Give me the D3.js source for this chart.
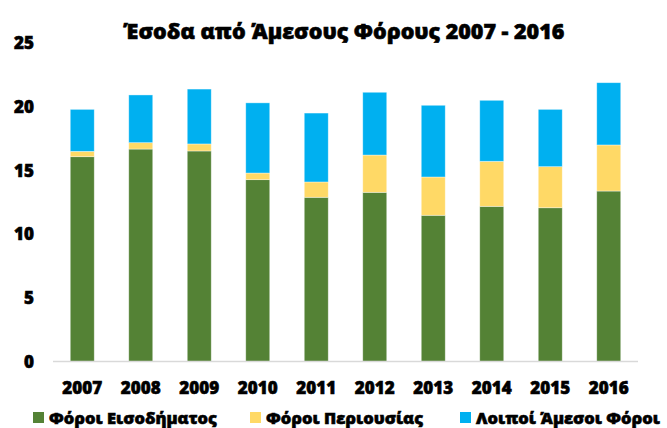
<!DOCTYPE html>
<html>
  <head>
    <meta charset="utf-8">
    <title></title>
    <script src="https://cdnjs.cloudflare.com/ajax/libs/d3/7.8.5/d3.min.js"></script>
    <style>
      body { margin: 0; background-color: white }
      text { font-family: "Open Sans", sans-serif; font-weight: 800; fill: black; stroke: black; stroke-width: 0.6px }
    </style>
  </head>
  <body>
    <div id="chart"></div>
  </body>
  <script>

var years = ["2007", "2008", "2009", "2010", "2011", "2012", "2013", "2014", "2015", "2016"]
var income = [16.05, 16.65, 16.5, 14.25, 12.87, 13.26, 11.46, 12.16, 12.05, 13.36]
var property = [0.42, 0.5, 0.55, 0.52, 1.2, 2.92, 3.0, 3.53, 3.22, 3.61]
var other = [3.29, 3.74, 4.3, 5.5, 5.4, 4.92, 5.62, 4.78, 4.49, 4.88]
var seriesNames = ["Φόροι Εισοδήματος", "Φόροι Περιουσίας", "Λοιποί Άμεσοι Φόροι"]
var colors = ["#548235", "#ffd966", "#00b0f0"]
var yTicks = [0, 5, 10, 15, 20, 25]

var W = 667, H = 428
var svg = d3.select("#chart").append("svg")
    .attr("width", W)
    .attr("height", H)

var x = d3.scaleBand().domain(years).range([53, 638]).paddingInner(0.59).paddingOuter(0.295)
var y = d3.scaleLinear().domain([0, 25]).range([361.5, 42.5])

var rows = years.map(function(yr, i){
    return {year: yr, income: income[i], property: property[i], other: other[i]}
})
var stack = d3.stack().keys(["income", "property", "other"])(rows)

svg.append("g").selectAll("g")
    .data(stack)
    .join("g")
    .attr("fill", function(d, i){ return colors[i] })
    .selectAll("rect")
    .data(function(d){ return d })
    .join("rect")
    .attr("x", function(d){ return x(d.data.year) })
    .attr("width", x.bandwidth())
    .attr("y", function(d){ return y(d[1]) })
    .attr("height", function(d){ return y(d[0]) - y(d[1]) })
    .attr("stroke", "rgba(255,255,255,0.5)")
    .attr("stroke-width", 0.75)

// baseline
svg.append("line")
    .attr("x1", 53).attr("x2", 638)
    .attr("y1", y(0)).attr("y2", y(0))
    .attr("stroke", "#d9d9d9")
    .attr("stroke-width", 1.5)

var yAxis = svg.append("g")
    .attr("transform", "translate(34,0)")
    .call(d3.axisLeft(y).tickValues(yTicks).tickSize(0).tickPadding(0))
yAxis.select(".domain").remove()
yAxis.selectAll("text").style("font-size", "17px").attr("dy", "0.35em")

var xAxis = svg.append("g")
    .attr("transform", "translate(0," + y(0) + ")")
    .call(d3.axisBottom(x).tickSize(0).tickPadding(20))
xAxis.select(".domain").remove()
xAxis.selectAll("text").style("font-size", "17px")

svg.append("text")
    .attr("x", 344)
    .attr("y", 39)
    .attr("text-anchor", "middle")
    .style("font-size", "21.5px")
    .text("Έσοδα από Άμεσους Φόρους 2007 - 2016")

var legendX = [33, 250, 460]
var legend = svg.append("g").selectAll("g")
    .data(seriesNames)
    .join("g")
    .attr("transform", function(d, i){ return "translate(" + legendX[i] + ",412)" })
legend.append("rect")
    .attr("width", 11).attr("height", 11)
    .attr("fill", function(d, i){ return colors[i] })
legend.append("text")
    .attr("x", 16)
    .attr("y", 12)
    .style("font-size", "16.5px")
    .text(function(d){ return d })

  </script>
</html>
